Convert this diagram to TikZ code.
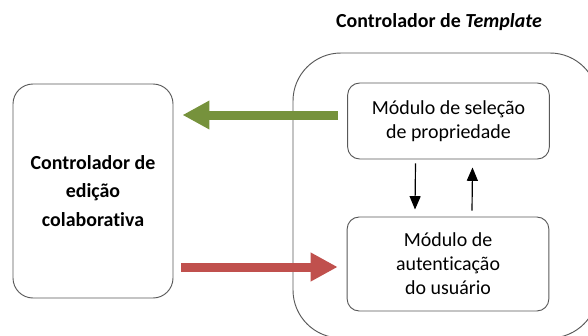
\documentclass[tikz,border=0pt]{standalone}
\usepackage{fontspec}
\setmainfont{Carlito}[Ligatures=NoCommon]
\usetikzlibrary{positioning, calc, arrows.meta}
\definecolor{olivegreen}{RGB}{118, 146, 60}
\definecolor{brickred}{RGB}{192, 80, 77}
\definecolor{edgegray}{RGB}{89, 89, 89}

\begin{document}
\begin{tikzpicture}[
    x=0.03cm, y=-0.03cm,
    font=\fontsize{17}{20.5}\selectfont,
    tmplbox/.style={draw=edgegray, line width=0.8pt, rounded corners=1.44cm, minimum width=9.15cm, minimum height=8.55cm, inner sep=0pt},
    ctrlbox/.style={draw=edgegray, line width=0.8pt, rounded corners=0.6cm, minimum width=4.8cm, minimum height=6.42cm, align=center, inner sep=0pt},
    modbox/.style={draw=edgegray, line width=0.8pt, rounded corners=0.36cm, minimum width=6.05cm, align=center, inner sep=0pt},
    bigarrow/.style={line width=0.27cm, -{Triangle[length=0.81cm, width=0.81cm]}},
    thinarrow/.style={line width=1pt, -{Triangle[length=0.4cm, width=0.33cm]}}
]
    \useasboundingbox (0, 0) rectangle (588, 335);
    \clip (0, 0) rectangle (588, 335);

    % =========================================================================
    % RIGHT: TEMPLATE CONTROLLER (runs off the page at right and bottom)
    % =========================================================================
    \node[tmplbox] (tmpl) at (445.5, 195.5) {};
    \node[font=\bfseries\fontsize{17}{20.5}\selectfont] (title) at (439, 22) {Controlador de \textit{Template}};

    \node[modbox, minimum height=2.28cm] (sel) at (448.5, 121) {Módulo de seleção \\ de propriedade};
    \node[modbox, minimum height=2.82cm] (aut) at (448, 264) {Módulo de \\ autenticação \\ do usuário};

    % =========================================================================
    % LEFT: COLLABORATIVE EDITING CONTROLLER
    % =========================================================================
    \node[ctrlbox, font=\bfseries\fontsize{17}{24.3}\selectfont] (ctrl) at (93, 191) {Controlador de \\ edição \\ colaborativa};

    % Thick arrows between the controllers
    \draw[bigarrow, olivegreen] ($(sel.west) + (-9, -6)$) -- ($(ctrl.east |- sel.west) + (9, -6)$);
    \draw[bigarrow, brickred] ($(ctrl.east |- aut.west) + (8, 3)$) -- ($(aut.west) + (-9, 3)$);

    % Thin arrows between the modules
    \draw[thinarrow] ($(sel.south) + (-33, 4)$) -- ($(aut.north) + (-33, -7)$);
    \draw[thinarrow] ($(aut.north) + (24, -6)$) -- ($(sel.south) + (24, 8)$);

\end{tikzpicture}
\end{document}
